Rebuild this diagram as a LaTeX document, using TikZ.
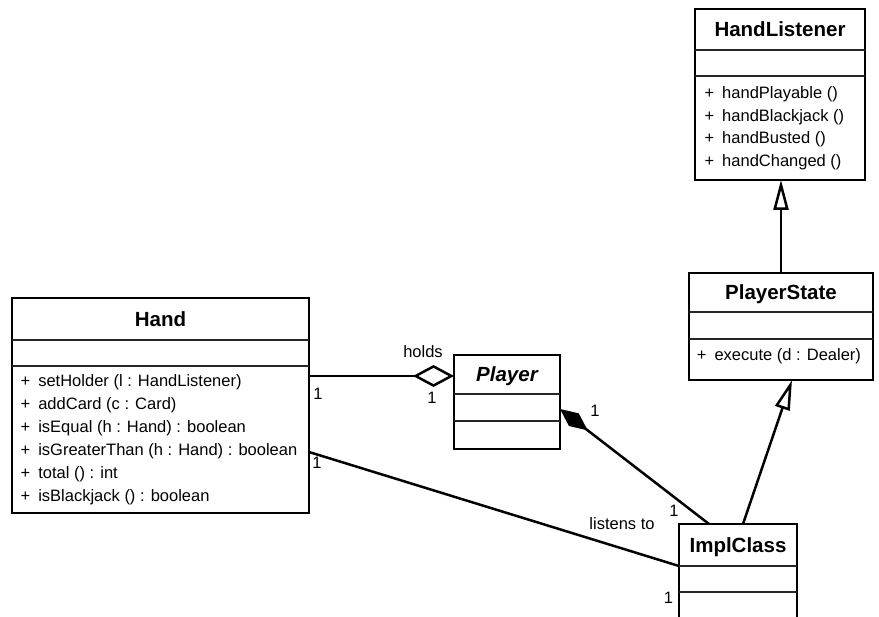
\documentclass[tikz,border=0pt]{standalone}
\usepackage{fontspec}
\setmainfont{Liberation Sans}
\usetikzlibrary{arrows.meta,calc}
\begin{document}
\begin{tikzpicture}[x=1pt,y=-1pt,
  cls/.style={draw, line width=2.5pt, rectangle, inner sep=0pt, outer sep=0pt, anchor=north west},
  sepline/.style={line width=1.2pt, draw=black!85},
  ttl/.style={font=\fontsize{20.5}{24}\selectfont\bfseries, inner sep=0pt, text height=14.8pt, text depth=0pt, anchor=center},
  mth/.style={font=\fontsize{16.5}{20}\selectfont, inner sep=0pt, anchor=base west},
  lbl/.style={font=\fontsize{16.5}{20}\selectfont, inner sep=0pt, anchor=base},
  conn/.style={line width=2.5pt},
]
\useasboundingbox (0,0) rectangle (879,617);
\clip (0,0) rectangle (879,617);
\fill[white] (0,0) rectangle (879,617);

% ---------- HandListener ----------
\node[cls, minimum width=170pt, minimum height=171pt] (hl) at (695,9) {};
\draw[sepline] ($(hl.north west)+(0,41)$) -- ($(hl.north east)+(0,41)$);
\draw[sepline] ($(hl.north west)+(0,67)$) -- ($(hl.north east)+(0,67)$);
\node[ttl] (hlt) at ($(hl.north)+(0,20.5)$) {HandListener};
\node[mth] (hl1) at (704.4,99) {+\hspace{8pt}handPlayable ()};
\node[mth] (hl2) at (704.4,121.5) {+\hspace{8pt}handBlackjack ()};
\node[mth] (hl3) at (704.4,144) {+\hspace{8pt}handBusted ()};
\node[mth] (hl4) at (704.4,166.5) {+\hspace{8pt}handChanged ()};

% ---------- PlayerState ----------
\node[cls, minimum width=184pt, minimum height=107pt] (ps) at (689,273) {};
\draw[sepline] ($(ps.north west)+(0,39)$) -- ($(ps.north east)+(0,39)$);
\draw[sepline] ($(ps.north west)+(0,66)$) -- ($(ps.north east)+(0,66)$);
\node[ttl] (pst) at ($(ps.north)+(0,19.5)$) {PlayerState};
\node[mth] (ps1) at (696.7,361) {+\hspace{8pt}execute (d : Dealer)};

% ---------- Hand ----------
\node[cls, minimum width=297pt, minimum height=215pt] (hand) at (12,298) {};
\draw[sepline] ($(hand.north west)+(0,42)$) -- ($(hand.north east)+(0,42)$);
\draw[sepline] ($(hand.north west)+(0,68)$) -- ($(hand.north east)+(0,68)$);
\node[ttl] (handt) at ($(hand.north)+(0,21)$) {Hand};
\node[mth] (h1) at (20.5,387) {+\hspace{8pt}setHolder (l : HandListener)};
\node[mth] (h2) at (20.5,410) {+\hspace{8pt}addCard (c : Card)};
\node[mth] (h3) at (20.5,433) {+\hspace{8pt}isEqual (h : Hand) : boolean};
\node[mth] (h4) at (20.5,456) {+\hspace{8pt}isGreaterThan (h : Hand) : boolean};
\node[mth] (h5) at (20.5,479) {+\hspace{8pt}total () : int};
\node[mth] (h6) at (20.5,501.5) {+\hspace{8pt}isBlackjack () : boolean};

% ---------- Player ----------
\node[cls, minimum width=106pt, minimum height=94pt] (player) at (454,355) {};
\draw[sepline] ($(player.north west)+(0,39)$) -- ($(player.north east)+(0,39)$);
\draw[sepline] ($(player.north west)+(0,66)$) -- ($(player.north east)+(0,66)$);
\node[ttl, font=\fontsize{20.5}{24}\selectfont\bfseries\itshape] (playert) at ($(player.north)+(0,19.5)$) {Player};

% ---------- ImplClass ----------
\node[cls, minimum width=118pt, minimum height=130pt] (impl) at (679,524) {};
\draw[sepline] ($(impl.north west)+(0,42)$) -- ($(impl.north east)+(0,42)$);
\draw[sepline] ($(impl.north west)+(0,68)$) -- ($(impl.north east)+(0,68)$);
\node[ttl] (implt) at ($(impl.north)+(0,21)$) {ImplClass};

% ---------- connectors ----------
% holds (aggregation)
\draw[conn, -{Diamond[open, length=41pt, width=22pt]}]
  ([yshift=-78pt]hand.north east) -- ([yshift=-21pt]player.north west);
\node[lbl] (holdsl) at (423,358) {holds};
\node[lbl] (m1) at (318,400) {1};
\node[lbl] (m2) at (432,404) {1};

% composition Player -- ImplClass
\draw[conn, {Diamond[length=35pt, width=16pt]}-]
  ([yshift=-54pt]player.north east) -- ([xshift=30pt]impl.north west);
\node[lbl] (m3) at (595,417) {1};
\node[lbl] (m4) at (674,517) {1};

% listens to
\draw[conn] ([yshift=-154pt]hand.north east) -- ([yshift=-42pt]impl.north west);
\node[lbl] (listl) at (622,530) {listens to};
\node[lbl] (m5) at (317,469) {1};
\node[lbl] (m6) at (668.5,603) {1};

% generalizations
\draw[conn, -{Triangle[open, length=30pt, width=15pt]}]
  (ps.north) -- (ps.north |- hl.south);
\draw[conn, -{Triangle[open, length=30pt, width=15pt]}]
  ([xshift=64pt]impl.north west) -- ([xshift=103pt]ps.south west);
\end{tikzpicture}
\end{document}
